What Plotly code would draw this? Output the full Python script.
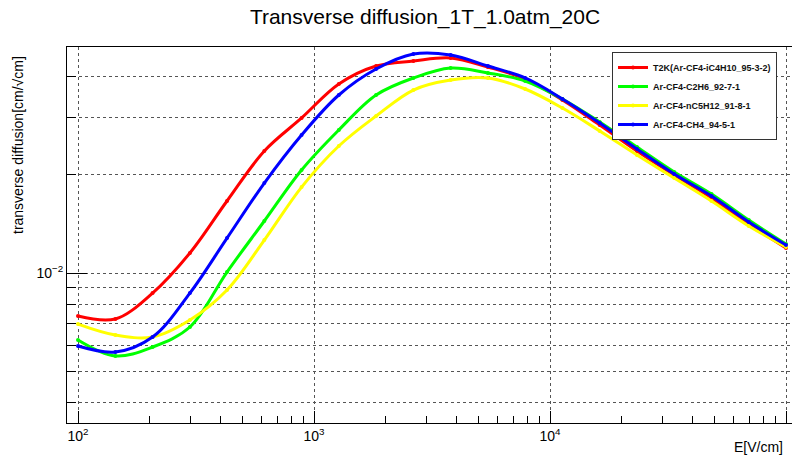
import plotly.graph_objects as go

# Electric field [V/cm] sample points
E_field = [100, 144, 207, 298, 428, 616, 886, 1274, 1833, 2637, 3793,
           5456, 7848, 11288, 16238, 23357, 33598, 48329, 69519, 100000]

# Transverse diffusion [cm/sqrt(cm)]
t2k = [0.00738, 0.00723, 0.00868, 0.01152, 0.01663, 0.02367, 0.02989, 0.03800,
       0.04315, 0.04470, 0.04566, 0.04284, 0.03937, 0.03394, 0.02844, 0.02367,
       0.01998, 0.01699, 0.01413, 0.01193]
c2h6 = [0.00623, 0.005565, 0.005929, 0.00683, 0.01007, 0.01444, 0.02070, 0.02746,
        0.03516, 0.03965, 0.04256, 0.04108, 0.03882, 0.03418, 0.02906, 0.02435,
        0.02041, 0.01747, 0.01454, 0.01227]
nc5h12 = [0.006973, 0.006455, 0.006365, 0.007177, 0.00887, 0.01262, 0.01835, 0.02452,
          0.03031, 0.03642, 0.03908, 0.03965, 0.03668, 0.03207, 0.02727, 0.02301,
          0.01956, 0.01663, 0.01394, 0.01202]
ch4 = [0.005972, 0.005725, 0.006365, 0.00868, 0.01280, 0.01888, 0.02650, 0.03516,
       0.04225, 0.04697, 0.04664, 0.04315, 0.03965, 0.03418, 0.02885, 0.02401,
       0.02012, 0.01723, 0.01434, 0.01219]

series_names = ["T2K(Ar-CF4-iC4H10_95-3-2)", "Ar-CF4-C2H6_92-7-1",
                "Ar-CF4-nC5H12_91-8-1", "Ar-CF4-CH4_94-5-1"]
series_values = [t2k, c2h6, nc5h12, ch4]
series_colors = ["#ff0000", "#00ff00", "#ffff00", "#0000ff"]

x_major = [100, 1000, 10000, 100000]
x_major_text = ["10<sup>2</sup>", "10<sup>3</sup>", "10<sup>4</sup>", "10<sup>5</sup>"]
x_minor = [m * d for d in (100, 1000, 10000) for m in range(2, 10)]
y_major = [0.01]
y_major_text = ["10<sup>\u22122</sup>"]
y_minor = [0.004, 0.005, 0.006, 0.007, 0.008, 0.009, 0.02, 0.03, 0.04]

fig = go.Figure()
for name, vals, col in zip(series_names, series_values, series_colors):
    fig.add_trace(go.Scatter(
        x=E_field, y=vals, name="<b>" + name + "</b>", mode="lines+markers",
        line=dict(color=col, width=3, shape="spline", smoothing=1),
        marker=dict(color=col, size=4),
    ))

W, H = 792, 459
L, T, B = 67, 47, 36
fig.update_layout(
    width=W, height=H,
    margin=dict(l=L, r=0, t=T, b=B, pad=0),
    paper_bgcolor="white", plot_bgcolor="white",
    font=dict(family="Liberation Sans, Arial, sans-serif", color="black"),
    title=dict(text="Transverse diffusion_1T_1.0atm_20C", x=425 / W, xref="container",
               xanchor="center", y=1 - 17 / H, yref="container", yanchor="middle",
               font=dict(size=21, color="black")),
    showlegend=True,
    legend=dict(x=(612 - L) / (W - L), y=(H - B - 52) / (H - B - T), xanchor="left", yanchor="top",
                bordercolor="#333333", borderwidth=1, bgcolor="white",
                font=dict(size=9, family="Liberation Sans, Arial, sans-serif", color="#111111"),
                itemwidth=30, tracegroupgap=0),
    xaxis=dict(type="log", range=[1.9534, 5.0254],
               tickmode="array", tickvals=x_major, ticktext=x_major_text,
               ticks="inside", ticklen=12, tickcolor="black", tickwidth=1,
               tickfont=dict(size=14),
               showline=True, linecolor="black", linewidth=1, mirror=True,
               showgrid=True, gridcolor="#555555", griddash="dot", gridwidth=1,
               zeroline=False,
               minor=dict(tickmode="array", tickvals=x_minor, ticks="inside", ticklen=7,
                          tickcolor="black", showgrid=False)),
    yaxis=dict(type="log", range=[-2.4601, -1.3067],
               tickmode="array", tickvals=y_major, ticktext=y_major_text,
               ticks="inside", ticklen=20, tickcolor="black", tickwidth=1,
               tickfont=dict(size=14),
               showline=True, linecolor="black", linewidth=1, mirror=False,
               showgrid=True, gridcolor="#555555", griddash="dot", gridwidth=1,
               zeroline=False,
               minor=dict(tickmode="array", tickvals=y_minor, ticks="inside", ticklen=9,
                          tickcolor="black", showgrid=True, gridcolor="#555555",
                          griddash="dot", gridwidth=1)),
)

fig.add_annotation(text="transverse diffusion[cm/\u221acm]", xref="paper", yref="paper",
                   x=(18 - L) / (W - L), y=(H - B - 145) / (H - B - T),
                   xanchor="center", yanchor="middle", textangle=-90, showarrow=False,
                   font=dict(size=14, color="black"))
fig.add_annotation(text="E[V/cm]", xref="paper", yref="paper",
                   x=(785 - L) / (W - L), y=(H - B - 447) / (H - B - T),
                   xanchor="right", yanchor="middle", showarrow=False,
                   font=dict(size=14, color="black"))

fig.write_html("out.html")
